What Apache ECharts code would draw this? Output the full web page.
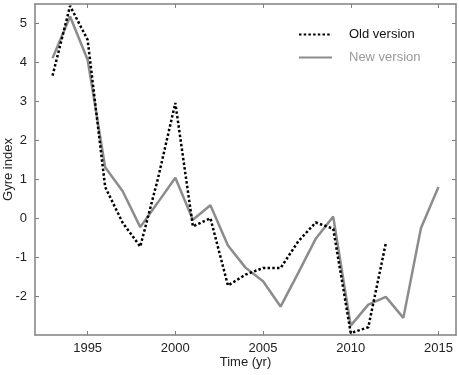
<!DOCTYPE html>
<html>
<head>
<meta charset="utf-8">
<script src="https://cdn.jsdelivr.net/npm/echarts@6/dist/echarts.min.js"></script>
<style>
html, body { margin: 0; padding: 0; background: #fff; }
#chart { width: 459px; height: 375px; }
</style>
</head>
<body>
<div id="chart"></div>
<script>
// data
var oldYears = [1993, 1994, 1995, 1996, 1997, 1998, 1999, 2000, 2001, 2002,
                2003, 2004, 2005, 2006, 2007, 2008, 2009, 2010, 2011, 2012];
var oldValues = [3.66, 5.45, 4.58, 0.8, -0.12, -0.73, 1.0, 2.96, -0.21, 0.0,
                 -1.73, -1.45, -1.28, -1.28, -0.6, -0.11, -0.27, -2.95, -2.8, -0.64];
var newYears = [1993, 1994, 1995, 1996, 1997, 1998, 1999, 2000, 2001, 2002,
                2003, 2004, 2005, 2006, 2007, 2008, 2009, 2010, 2011, 2012,
                2013, 2014, 2015];
var newValues = [4.11, 5.18, 4.07, 1.31, 0.69, -0.23, 0.4, 1.04, -0.04, 0.33,
                 -0.7, -1.27, -1.62, -2.27, -1.41, -0.53, 0.04, -2.76, -2.22, -2.02,
                 -2.56, -0.26, 0.8];
var xTicks = [1995, 2000, 2005, 2010, 2015];
var yTicks = [-2, -1, 0, 1, 2, 3, 4, 5];

function pairs(xs, ys) {
	var out = [];
	for (var i = 0; i < xs.length; i++) {
		out.push([xs[i], ys[i]]);
	}
	return out;
}

var axisColor = '#808080';
var font = 'Liberation Sans, Arial, sans-serif';

function xAxisOpt(pos, showLabel) {
	return {
		type: 'value',
		position: pos,
		min: 1992,
		max: 2016,
		name: showLabel ? 'Time (yr)' : '',
		nameLocation: 'middle',
		nameGap: 21,
		nameMoveOverlap: false,
		nameTextStyle: { color: '#222', fontSize: 13, fontFamily: font },
		axisLine: { show: true, onZero: false, lineStyle: { color: axisColor, width: 1.5 } },
		axisTick: { show: true, inside: true, length: 4, customValues: xTicks, lineStyle: { color: axisColor } },
		axisLabel: {
			show: showLabel, customValues: xTicks, margin: 7, color: '#222', fontSize: 13, fontFamily: font,
			formatter: function (v) { return String(v); }
		},
		splitLine: { show: false }
	};
}

function yAxisOpt(pos, showLabel) {
	return {
		type: 'value',
		position: pos,
		min: -3,
		max: 5.5,
		name: showLabel ? 'Gyre index' : '',
		nameLocation: 'middle',
		nameGap: 20,
		nameMoveOverlap: false,
		nameTextStyle: { color: '#222', fontSize: 13, fontFamily: font },
		axisLine: { show: true, onZero: false, lineStyle: { color: axisColor, width: 1.5 } },
		axisTick: { show: true, inside: true, length: 4, customValues: yTicks, lineStyle: { color: axisColor } },
		axisLabel: { show: showLabel, customValues: yTicks, margin: 8, color: '#222', fontSize: 13, fontFamily: font },
		splitLine: { show: false }
	};
}

var myChart = echarts.init(document.getElementById('chart'), null, { renderer: 'canvas' });
var option = {
	animation: false,
	backgroundColor: '#fff',
	grid: {
		left: 35,
		right: 3,
		top: 4,
		bottom: 40,
		containLabel: false,
		outerBoundsMode: 'none'
	},
	legend: {
		orient: 'vertical',
		left: 293,
		top: 23,
		itemWidth: 33,
		itemHeight: 14,
		itemGap: 10,
		itemStyle: { opacity: 0 },
		textStyle: { fontSize: 13, fontFamily: font, padding: [0, 0, 0, 12] },
		data: [
			{ name: 'Old version', textStyle: { color: '#111' } },
			{ name: 'New version', textStyle: { color: '#999' } }
		]
	},
	xAxis: [xAxisOpt('bottom', true), xAxisOpt('top', false)],
	yAxis: [yAxisOpt('left', true), yAxisOpt('right', false)],
	series: [
		{
			name: 'New version',
			type: 'line',
			symbol: 'none',
			data: pairs(newYears, newValues),
			lineStyle: { color: '#8c8c8c', width: 2.5 },
			itemStyle: { color: '#8c8c8c' },
			z: 2
		},
		{
			name: 'Old version',
			type: 'line',
			symbol: 'none',
			data: pairs(oldYears, oldValues),
			lineStyle: { color: '#000', width: 2.5, type: [2.5, 2.2] },
			itemStyle: { color: '#000' },
			z: 3
		}
	]
};
myChart.setOption(option);
</script>
</body>
</html>
